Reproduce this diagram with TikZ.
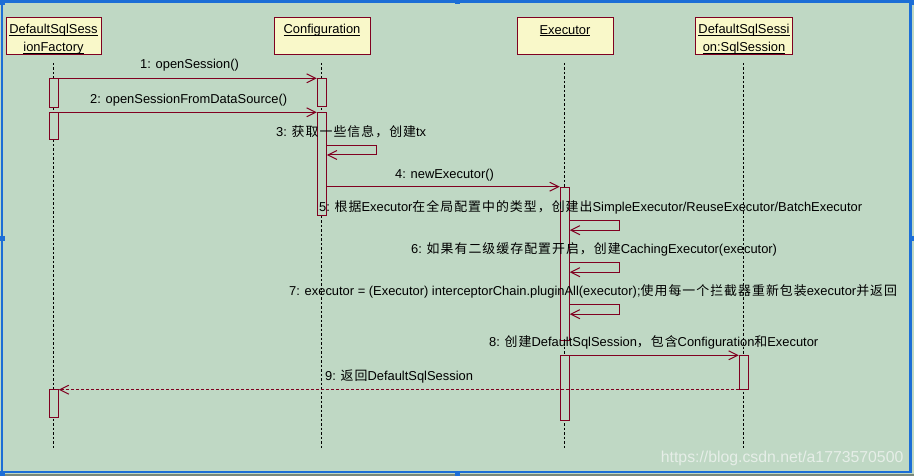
\documentclass[tikz,border=0pt]{standalone}
\usepackage{fontspec}
\setmainfont{Liberation Sans}
\newfontfamily\zhfont[LetterSpace=8]{Noto Sans CJK SC}
\usetikzlibrary{arrows.meta}
\definecolor{bgc}{RGB}{191,216,196}
\definecolor{umlred}{RGB}{128,0,32}
\definecolor{hdrfill}{RGB}{249,248,201}
\definecolor{framec}{RGB}{28,110,214}
\definecolor{stripc}{RGB}{120,135,122}
\definecolor{wmark}{RGB}{230,238,232}
\newcommand\zh[1]{{\zhfont #1}}
\newsavebox\ulbox
\newcommand\ulx[1]{\sbox\ulbox{#1}\rlap{\rule[-2.2pt]{\wd\ulbox}{0.9pt}}\usebox\ulbox}
\newcommand\hst{\rule[-1.5pt]{0pt}{16pt}}
\tikzset{
  hdr/.style={draw=umlred, fill=hdrfill, line width=1pt, inner sep=0pt, align=center,
    minimum height=37pt, font=\fontsize{12.9}{16}\selectfont},
  bar/.style={draw=umlred, fill=bgc, line width=1pt, minimum width=9pt, inner sep=0pt, anchor=north},
  life/.style={draw=black, line width=0.9pt, dash pattern=on 2.5pt off 2pt},
  msg/.style={draw=umlred, line width=1pt, -{Straight Barb[length=9pt,width=9pt]}},
  ret/.style={msg, dash pattern=on 3pt off 2pt},
  lbl/.style={anchor=base west, inner sep=0pt, font=\fontsize{12.9}{16}\selectfont},
  handle/.style={fill=framec, draw=none}
}
\begin{document}
\begin{tikzpicture}[x=1pt,y=-1pt]
\useasboundingbox (0,0) rectangle (914,476);
% background and frame
\fill[bgc] (0,0) rectangle (914,476);
\fill[stripc] (0,473.5) rectangle (914,476);
\draw[framec, line width=2.2pt] (2,1.5) rectangle (910.5,472);
\fill[handle] (0,0) rectangle (5,5);
\fill[handle] (455,0) rectangle (460,4.5);
\fill[handle] (909,0) rectangle (914,5);
\fill[handle] (0,236) rectangle (4.5,241);
\fill[handle] (909.5,236) rectangle (914,241);
\fill[handle] (0,471) rectangle (5,476);
\fill[handle] (455,471.5) rectangle (460,476);

% headers
\node[hdr, minimum width=95pt] (fac) at (53.5,36.5) {\hst\ulx{DefaultSqlSess}\\\hst\ulx{ionFactory}};
\node[hdr, minimum width=96pt] (cfg) at (322,36.5) {\hst\ulx{Configuration}\\\hst};
\node[hdr, minimum width=96pt] (exe) at (565,36.5) {\hst\ulx{Executor}\\\hst};
\node[hdr, minimum width=97pt] (dss) at (744,36.5) {\hst\ulx{DefaultSqlSessi}\\\hst\ulx{on:SqlSession}};

% lifelines
\coordinate (facS) at (53.7,63);  \coordinate (facE) at (53.7,449);
\coordinate (cfgS) at (321.8,63); \coordinate (cfgE) at (321.8,449);
\coordinate (exeS) at (564.8,63); \coordinate (exeE) at (564.8,449);
\coordinate (dssS) at (743.8,63); \coordinate (dssE) at (743.8,449);
\draw[life] (facS) -- (facE);
\draw[life] (cfgS) -- (cfgE);
\draw[life] (exeS) -- (exeE);
\draw[life] (dssS) -- (dssE);

% activation bars
\node[bar, minimum height=28.4pt] (fa1) at (53.7,78.3) {};
\node[bar, minimum height=27pt]   (fa2) at (53.7,112.3) {};
\node[bar, minimum height=28.3pt] (fa3) at (53.7,389) {};
\node[bar, minimum height=28pt]   (ca1) at (321.8,78.3) {};
\node[bar, minimum height=103pt]  (ca2) at (321.8,112.3) {};
\node[bar, minimum height=153.3pt] (ea1) at (564.8,186.7) {};
\node[bar, minimum height=65pt]   (ea2) at (564.8,355.3) {};
\node[bar, minimum height=33.4pt] (da1) at (743.8,355.3) {};

% messages
\draw[msg] (fa1.north east) -- (ca1.north west);
\draw[msg] (fa2.north east) -- (ca2.north west);
\draw[msg] ([yshift=-33.4pt]ca2.north east) -- ++(49.7,0) -- ++(0,9.3) -- ++(-49.7,0);
\draw[msg] (ca2.east |- ea1.north) -- (ea1.north west);
\draw[msg] ([yshift=-34pt]ea1.north east) -- ++(49.4,0) -- ++(0,9.5) -- ++(-49.4,0);
\draw[msg] ([yshift=-76pt]ea1.north east) -- ++(49.4,0) -- ++(0,9.5) -- ++(-49.4,0);
\draw[msg] ([yshift=-118pt]ea1.north east) -- ++(49.4,0) -- ++(0,9.5) -- ++(-49.4,0);
\draw[msg] (ea2.north east) -- (da1.north west);
\draw[ret] (da1.south west) -- (fa3.north east |- da1.south west);

% labels
\node[lbl] (l1) at (140,69) {1: openSession()};
\node[lbl] (l2) at (90,104) {2: openSessionFromDataSource()};
\node[lbl] (l3) at (276,136.7) {3: \zh{获取一些信息，创建}tx};
\node[lbl] (l4) at (395,179) {4: newExecutor()};
\node[lbl] (l5) at (319,211.7) {5: \zh{根据}Executor\zh{在全局配置中的类型，创建出}SimpleExecutor/ReuseExecutor/BatchExecutor};
\node[lbl] (l6) at (411,253.4) {6: \zh{如果有二级缓存配置开启，创建}CachingExecutor(executor)};
\node[lbl] (l7) at (289,295.7) {7: executor = (Executor) interceptorChain.pluginAll(executor);\zh{使用每一个拦截器重新包装}executor\zh{并返回}};
\node[lbl] (l8) at (489,346.7) {8: \zh{创建}DefaultSqlSession\zh{，包含}Configuration\zh{和}Executor};
\node[lbl] (l9) at (325,380.7) {9: \zh{返回}DefaultSqlSession};

% watermark
\node[lbl, text=wmark, font=\fontsize{15.8}{18}\selectfont] (wm) at (660.7,462) {https://blog.csdn.net/a1773570500};
\end{tikzpicture}
\end{document}
